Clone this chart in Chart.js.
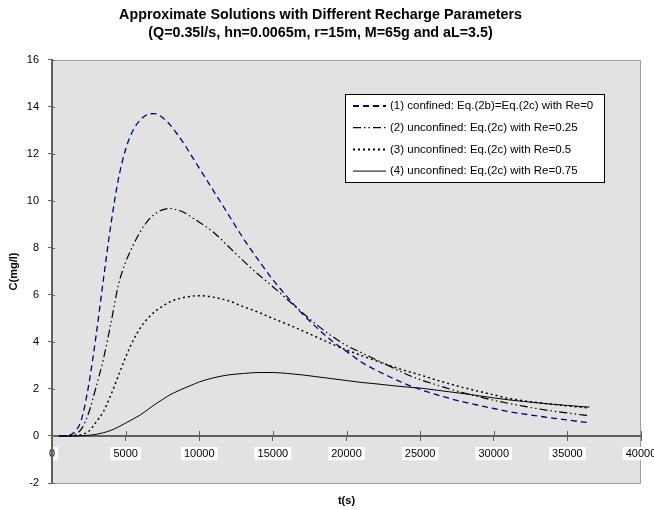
<!DOCTYPE html>
<html>
<head>
<meta charset="utf-8">
<script src="https://cdn.jsdelivr.net/npm/chart.js@4"></script>
<style>
  body { margin: 0; background: #fff; }
  #chart { display: block; }
</style>
</head>
<body>
<canvas id="chart" width="654" height="510"></canvas>
<script>
// time (s)
const times = [500, 1000, 1500, 2000, 2500, 3000, 3500, 4000, 4500, 5000,
  5500, 6000, 6500, 7000, 7500, 8000, 8500, 9000, 9500, 10000,
  11000, 12000, 13000, 14000, 15000, 16000, 17000, 18000, 19000, 20000,
  21000, 22000, 23000, 24000, 25000, 26000, 27000, 28000, 29000, 30000,
  31000, 32000, 33000, 34000, 35000, 36000, 36500];

// C (mg/l) for each case
const confinedRe0 = [0, 0.02, 0.15, 0.7, 2.2, 4.3, 6.7, 9.0, 10.9, 12.2,
  13.0, 13.45, 13.68, 13.72, 13.55, 13.25, 12.85, 12.4, 11.9, 11.4,
  10.4, 9.4, 8.4, 7.5, 6.65, 5.9, 5.2, 4.6, 4.05, 3.6,
  3.15, 2.8, 2.5, 2.22, 1.98, 1.78, 1.6, 1.44, 1.3, 1.17,
  1.04, 0.94, 0.85, 0.76, 0.68, 0.6, 0.57];
const unconfRe025 = [0, 0, 0.05, 0.3, 1.0, 2.1, 3.3, 4.8, 6.4, 7.4,
  8.1, 8.7, 9.15, 9.45, 9.62, 9.68, 9.62, 9.5, 9.3, 9.1,
  8.65, 8.05, 7.45, 6.88, 6.35, 5.8, 5.25, 4.72, 4.25, 3.85,
  3.55, 3.25, 2.95, 2.65, 2.4, 2.2, 2.0, 1.83, 1.67, 1.52,
  1.39, 1.27, 1.16, 1.06, 0.98, 0.9, 0.87];
const unconfRe05 = [0, 0, 0.01, 0.06, 0.2, 0.6, 1.05, 1.75, 2.55, 3.35,
  4.05, 4.6, 5.0, 5.3, 5.52, 5.7, 5.82, 5.9, 5.95, 5.97,
  5.9, 5.75, 5.5, 5.27, 5.0, 4.75, 4.48, 4.2, 3.92, 3.66,
  3.43, 3.2, 2.98, 2.78, 2.6, 2.4, 2.22, 2.05, 1.9, 1.75,
  1.6, 1.5, 1.42, 1.35, 1.28, 1.22, 1.19];
const unconfRe075 = [0, 0, 0, 0.01, 0.03, 0.07, 0.14, 0.24, 0.38, 0.55,
  0.72, 0.9, 1.12, 1.35, 1.55, 1.75, 1.9, 2.04, 2.17, 2.3,
  2.48, 2.6, 2.66, 2.7, 2.7, 2.66, 2.6, 2.52, 2.44, 2.36,
  2.28, 2.22, 2.15, 2.09, 2.04, 1.96, 1.88, 1.8, 1.71, 1.62,
  1.54, 1.47, 1.41, 1.35, 1.3, 1.25, 1.23];

const seriesLabels = [
  '(1) confined: Eq.(2b)=Eq.(2c) with Re=0',
  '(2) unconfined: Eq.(2c) with Re=0.25',
  '(3) unconfined: Eq.(2c) with Re=0.5',
  '(4) unconfined: Eq.(2c) with Re=0.75'
];
const titleLines = [
  'Approximate Solutions with Different Recharge Parameters',
  '(Q=0.35l/s, hn=0.0065m, r=15m, M=65g and aL=3.5)'
];

const FONT = '"Liberation Sans", Arial, sans-serif';
const AXIS_GREY = '#606060';

function toPoints(values) {
  return times.map((t, i) => ({ x: t, y: values[i] }));
}

// grey plot area with thin border
const plotBackground = {
  id: 'plotBackground',
  beforeDraw(chart) {
    const { ctx, chartArea: a } = chart;
    ctx.save();
    ctx.fillStyle = '#e2e2e2';
    ctx.fillRect(a.left, a.top, a.right - a.left, a.bottom - a.top);
    ctx.strokeStyle = '#a0a0a0';
    ctx.lineWidth = 1;
    ctx.strokeRect(a.left + 0.5, a.top + 0.5, a.right - a.left - 1, a.bottom - a.top);
    ctx.restore();
  }
};

// the other half of the "cross" tick marks
const crossTicks = {
  id: 'crossTicks',
  afterDraw(chart) {
    const { ctx, scales: { x, y } } = chart;
    const y0 = y.getPixelForValue(0);
    ctx.save();
    ctx.strokeStyle = AXIS_GREY;
    ctx.lineWidth = 1;
    ctx.beginPath();
    x.ticks.forEach(t => {
      const px = Math.round(x.getPixelForValue(t.value)) + 0.5;
      ctx.moveTo(px, y0 - 5);
      ctx.lineTo(px, y0);
    });
    y.ticks.forEach(t => {
      const py = Math.round(y.getPixelForValue(t.value)) + 0.5;
      ctx.moveTo(y.right, py);
      ctx.lineTo(y.right + 3, py);
    });
    ctx.stroke();
    ctx.restore();
  }
};

// legend box inside the plot, top right
const boxLegend = {
  id: 'boxLegend',
  afterDraw(chart) {
    const { ctx } = chart;
    const left = 345, top = 94, width = 259, height = 88;
    ctx.save();
    ctx.fillStyle = '#fff';
    ctx.fillRect(left, top, width, height);
    ctx.strokeStyle = '#000';
    ctx.lineWidth = 1;
    ctx.strokeRect(left + 0.5, top + 0.5, width, height);
    ctx.font = '11.5px ' + FONT;
    ctx.textBaseline = 'middle';
    chart.data.datasets.forEach((ds, i) => {
      const rowY = top + 12 + i * 21.7;
      ctx.beginPath();
      ctx.strokeStyle = ds.borderColor;
      ctx.lineWidth = ds.legendWidth;
      ctx.setLineDash(ds.borderDash || []);
      ctx.moveTo(353, rowY);
      ctx.lineTo(386, rowY);
      ctx.stroke();
      ctx.setLineDash([]);
      ctx.fillStyle = '#000';
      ctx.fillText(ds.label, 390, rowY);
    });
    ctx.restore();
  }
};

new Chart(document.getElementById('chart'), {
  type: 'line',
  data: {
    datasets: [
      {
        label: seriesLabels[0],
        data: toPoints(confinedRe0),
        borderColor: '#000080',
        borderWidth: 1.3,
        borderDash: [6, 4],
        legendWidth: 2
      },
      {
        label: seriesLabels[1],
        data: toPoints(unconfRe025),
        borderColor: '#000',
        borderWidth: 1.2,
        borderDash: [8, 3, 1.5, 3, 1.5, 3],
        legendWidth: 1.2
      },
      {
        label: seriesLabels[2],
        data: toPoints(unconfRe05),
        borderColor: '#000',
        borderWidth: 1.5,
        borderDash: [2, 3],
        legendWidth: 2
      },
      {
        label: seriesLabels[3],
        data: toPoints(unconfRe075),
        borderColor: '#000',
        borderWidth: 1,
        legendWidth: 1
      }
    ]
  },
  options: {
    responsive: false,
    animation: false,
    devicePixelRatio: 1,
    layout: { padding: { left: 0, right: 13, top: 0, bottom: 0 } },
    elements: {
      point: { radius: 0 },
      line: { fill: false, cubicInterpolationMode: 'monotone' }
    },
    scales: {
      x: {
        type: 'linear',
        position: { y: 0 },
        z: 1,
        min: 0,
        max: 40000,
        border: { color: AXIS_GREY, width: 2 },
        grid: { drawOnChartArea: false, tickLength: 4, color: AXIS_GREY },
        ticks: {
          stepSize: 5000,
          color: '#000',
          font: { family: FONT, size: 11 },
          padding: 7,
          maxRotation: 0,
          autoSkip: false,
          showLabelBackdrop: true,
          backdropColor: '#fff',
          backdropPadding: { left: 3, right: 3, top: 0, bottom: 0 },
          callback: v => String(v)
        },
        afterFit(scale) {
          scale.paddingLeft = 0;
          scale.paddingRight = 0;
        }
      },
      y: {
        type: 'linear',
        position: 'left',
        min: -2,
        max: 16,
        border: { color: AXIS_GREY, width: 2 },
        grid: { drawOnChartArea: false, tickLength: 4, color: AXIS_GREY },
        ticks: {
          stepSize: 2,
          color: '#000',
          font: { family: FONT, size: 11 },
          padding: 9
        },
        title: {
          display: true,
          text: 'C(mg/l)',
          color: '#000',
          font: { family: FONT, size: 11, weight: 'bold' },
          padding: { top: 7, bottom: 0 }
        },
        afterFit(scale) {
          scale.width = 52;
          scale.paddingTop = 0;
          scale.paddingBottom = 0;
        }
      }
    },
    plugins: {
      legend: { display: false },
      tooltip: { enabled: false },
      title: {
        display: true,
        text: titleLines,
        color: '#000',
        font: { family: FONT, size: 14.3, weight: 'bold', lineHeight: 1.31 },
        padding: { top: 5.3, bottom: 17.2 }
      },
      subtitle: {
        display: true,
        position: 'bottom',
        fullSize: false,
        text: 't(s)',
        color: '#000',
        font: { family: FONT, size: 11, weight: 'bold' },
        padding: { top: 11.4, bottom: 2.4 }
      }
    }
  },
  plugins: [plotBackground, crossTicks, boxLegend]
});
</script>
</body>
</html>
